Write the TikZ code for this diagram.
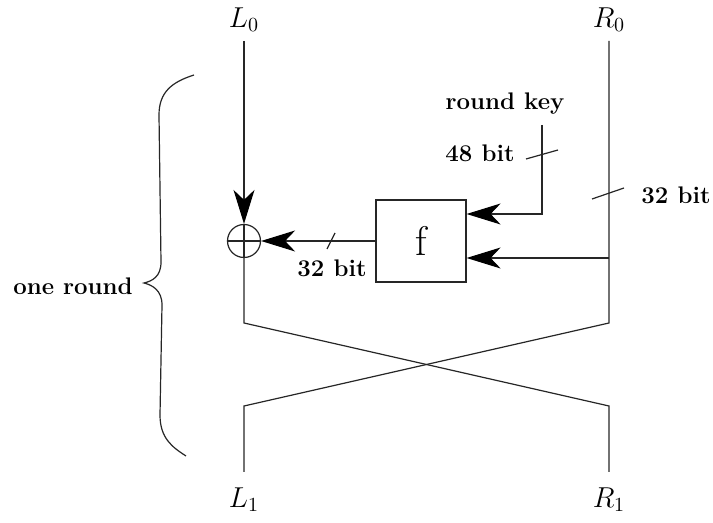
\documentclass[tikz,border=0pt]{standalone}
\usetikzlibrary{arrows.meta}
\begin{document}
\begin{tikzpicture}[x=0.5pt,y=-0.5pt,
  ln/.style={line width=0.6pt,draw=black!85},
  arr/.style={ln,-{Stealth[length=17pt,width=10.5pt,inset=5pt,color=black,fill=black]}},
  lbl/.style={font=\large\bfseries,inner sep=0pt},
  vlbl/.style={font=\Large,inner sep=0pt},
  xorc/.style={circle,ln,draw,minimum size=16.5pt,inner sep=0pt},
  fbox/.style={rectangle,ln,draw,minimum width=45pt,minimum height=41pt,font=\huge,inner sep=0pt}]
\useasboundingbox (0,0) rectangle (713,523);
% labels
\node[vlbl] (L0) at (244,20) {$L_0$};
\node[vlbl] (R0) at (609,20) {$R_0$};
\node[vlbl] (L1) at (244,500) {$L_1$};
\node[vlbl] (R1) at (609,500) {$R_1$};
\node[lbl] (rklbl) at (505,104) {round key};
\node[lbl] (b48) at (480,153) {48 bit};
\node[lbl] (b32r) at (676,195) {32 bit};
\node[lbl] (b32l) at (332,268) {32 bit};
\node[lbl] (one) at (73,286) {one round};
% main nodes
\node[xorc] (xor) at (244,241) {};
\node[fbox] (f) at (421,241) {f};
% coordinates
\coordinate (Ltop) at (244,41);
\coordinate (Rtop) at (609,41);
\coordinate (Lmid) at (244,323);
\coordinate (Rmid) at (609,323);
\coordinate (Llow) at (244,406);
\coordinate (Rlow) at (609,406);
\coordinate (Lbot) at (244,472);
\coordinate (Rbot) at (609,472);
\coordinate (rk) at (542,125);
\coordinate (kc) at (542,214);
\coordinate (tap) at (609,258);
% XOR cross
\draw[ln] (xor.north) -- (xor.south);
\draw[ln] (xor.west) -- (xor.east);
% left path
\draw[arr] (Ltop) -- (xor.north);
\draw[ln] (xor.south) -- (Lmid) -- (Rlow) -- (Rbot);
% right path
\draw[ln] (Rtop) -- (Rmid) -- (Llow) -- (Lbot);
% f output
\draw[arr] (f.west) -- (xor.east);
% key input
\draw[arr] (rk) -- (kc) -- (kc -| f.east);
% R tap into f
\draw[arr] (tap) -- (tap -| f.east);
% ticks
\draw[ln] (327,249) -- (335,233);
\draw[ln] (526,159) -- (558,150);
\draw[ln] (592,199) -- (624,188);
% brace
\draw[ln] (194,75) .. controls (172,82) and (159,92) .. (159,115)
  -- (161,262) .. controls (161,277) and (152,281) .. (144,283)
  .. controls (152,285) and (162,290) .. (162,305)
  -- (160,415) .. controls (160,438) and (172,447) .. (186,456);
\end{tikzpicture}
\end{document}
